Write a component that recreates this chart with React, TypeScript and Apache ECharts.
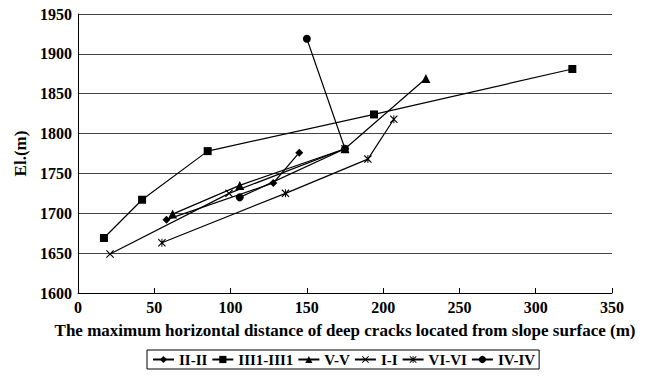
import React, { useEffect, useRef } from "react";
import * as echarts from "echarts";

const seriesNames = ["II-II", "III1-III1", "V-V", "I-I", "VI-VI", "IV-IV"];

const s_II: [number, number][] = [[58, 1692], [128, 1738], [145, 1776]];
const s_III1: [number, number][] = [[17, 1669], [42, 1717], [85, 1778], [194, 1824], [324, 1881]];
const s_V: [number, number][] = [[62, 1699], [106, 1735], [175, 1781], [228, 1869]];
const s_I: [number, number][] = [[21, 1649], [99, 1725], [175, 1781]];
const s_VI: [number, number][] = [[55, 1663], [136, 1725], [190, 1768], [207, 1818]];
const s_IV: [number, number][] = [[106, 1720], [175, 1781], [150, 1919]];

const xTicks = { min: 0, max: 350, interval: 50 };
const yTicks = { min: 1600, max: 1950, interval: 50 };

const X_PATH = "path://M0,1L1,0L5,4L9,0L10,1L6,5L10,9L9,10L5,6L1,10L0,9L4,5Z";
const AST_PATH =
  "path://M0,1L1,0L5,4L9,0L10,1L6,5L10,9L9,10L5,6L1,10L0,9L4,5ZM4.4,0L5.6,0L5.6,10L4.4,10Z";

const FONT = "'Liberation Serif', 'Times New Roman', serif";

export default function App() {
  const ref = useRef<HTMLDivElement>(null);
  useEffect(() => {
    if (!ref.current) return;
    const chart = echarts.init(ref.current, null, { renderer: "svg" });
    const datas = [s_II, s_III1, s_V, s_I, s_VI, s_IV];
    const symbols = ["diamond", "rect", "triangle", X_PATH, AST_PATH, "circle"];
    const sizes = [8, 8, 9, 8, 8, 8];
    const txt = { fontFamily: FONT, fontWeight: "bold", color: "#000" };
    chart.setOption({
      animation: false,
      textStyle: txt,
      grid: { left: 78, right: 34, top: 14, bottom: 84, containLabel: false },
      legend: {
        left: 147,
        top: 350,
        itemWidth: 21,
        itemHeight: 9,
        itemGap: 4,
        padding: [2, 4, 2, 5],
        borderColor: "#000",
        borderWidth: 1,
        textStyle: { ...txt, fontSize: 15 },
        data: seriesNames,
      },
      xAxis: {
        type: "value",
        min: xTicks.min,
        max: xTicks.max,
        interval: xTicks.interval,
        name: "The maximum horizontal distance of deep cracks located from slope surface (m)",
        nameLocation: "middle",
        nameGap: 29,
        nameTextStyle: { ...txt, fontSize: 17 },
        axisLine: { show: true, lineStyle: { color: "#000", width: 1 } },
        axisTick: { show: true, inside: true, length: 5, lineStyle: { color: "#000" } },
        axisLabel: { ...txt, fontSize: 16, margin: 6 },
        splitLine: { show: false },
      },
      yAxis: {
        type: "value",
        min: yTicks.min,
        max: yTicks.max,
        interval: yTicks.interval,
        name: "El.(m)",
        nameLocation: "middle",
        nameGap: 48,
        nameRotate: 90,
        nameTextStyle: { ...txt, fontSize: 17 },
        axisLine: { show: true, lineStyle: { color: "#000", width: 1 } },
        axisTick: { show: false },
        axisLabel: { ...txt, fontSize: 16, margin: 6, formatter: (v: number) => String(v) },
        splitLine: { show: true, lineStyle: { color: "#444", width: 1 } },
      },
      series: seriesNames.map((name, i) => ({
        name,
        type: "line",
        data: datas[i],
        symbol: symbols[i],
        symbolSize: sizes[i],
        showSymbol: true,
        lineStyle: { color: "#000", width: 1.2 },
        itemStyle: { color: "#000", borderColor: "#000", borderWidth: 0 },
        emphasis: { disabled: true },
      })),
    });
    return () => chart.dispose();
  }, []);
  return (
    <div
      ref={ref}
      style={{ position: "fixed", left: 0, top: 0, width: 646, height: 377, background: "#fff" }}
    />
  );
}
